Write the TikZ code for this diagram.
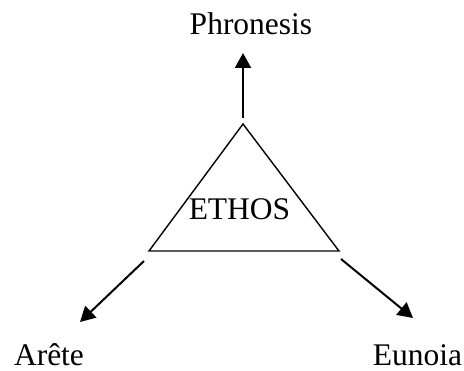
\documentclass[tikz,border=0pt]{standalone}
\usepackage{fontspec}
\setmainfont{Liberation Serif}
\usetikzlibrary{arrows.meta,positioning,calc}
\tikzset{
  term/.style  = {font=\fontsize{31.5}{36}\selectfont, inner sep=0pt, anchor=base},
  sig/.style   = {-{Triangle[length=15pt,width=16pt]}, line width=2pt},
  tri/.style   = {draw, line width=1.4pt, line join=miter},
}
\begin{document}
\begin{tikzpicture}[x=1pt,y=-1pt]
\useasboundingbox (0,0) rectangle (464,371);
% triangle corners
\coordinate (top) at (243,124);
\coordinate (bl) at (149,251);
\coordinate (br) at (339,251);
\draw[tri] (top) -- (bl) -- (br) -- cycle;
\node[term] (ethos) at (239.5,220) {ETHOS};
% labels
\node[term] (phr) at (251,35) {Phronesis};
\node[term] (are) at (49,366) {Arête};
\node[term] (eun) at (417.5,366) {Eunoia};
% arrow ends
\coordinate (t0) at (243,118);
\coordinate (t1) at (243,53);
\coordinate (l0) at (144,261);
\coordinate (l1) at (80,322);
\coordinate (r0) at (341,259);
\coordinate (r1) at (413,318);
\draw[sig] (t0) -- (t1);
\draw[sig] (l0) -- (l1);
\draw[sig] (r0) -- (r1);
\end{tikzpicture}
\end{document}
